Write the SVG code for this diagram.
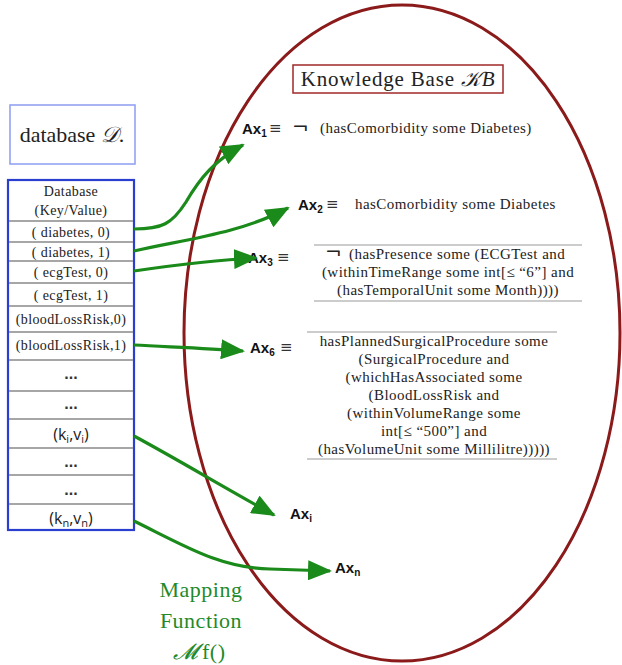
<svg xmlns="http://www.w3.org/2000/svg" width="622" height="665" viewBox="0 0 622 665">
<style>
.serif{font-family:'Liberation Serif',serif;fill:#222}
.cell{font-family:'Liberation Serif',serif;font-size:14px;letter-spacing:0.4px;fill:#222;text-anchor:middle}
.cal{font-family:'Open Sans','Liberation Sans',sans-serif;font-size:16px;fill:#222;text-anchor:middle}
.dots{font-family:'Liberation Sans',sans-serif;font-size:16px;font-weight:bold;fill:#333;text-anchor:middle}
.ax{font-family:'Liberation Sans',sans-serif;font-size:15px;font-weight:bold;fill:#111}
.ax tspan.s{font-size:10px}
.eq{font-family:'DejaVu Sans',sans-serif;font-size:15px;fill:#333}
.neg{font-family:'DejaVu Sans',sans-serif;font-size:20px;fill:#222}
.body{font-family:'Liberation Serif',serif;font-size:15px;letter-spacing:0.45px;fill:#222}
.mid{text-anchor:middle}
.rowline{stroke:#888;stroke-width:1.5}
.rule{stroke:#999;stroke-width:1.2}
.arrow{fill:none;stroke:#1a8a1a;stroke-width:3.2}
.green{font-family:'Liberation Serif',serif;font-size:22px;letter-spacing:0.5px;fill:#1f8a2a;text-anchor:middle}
</style>
<defs>
<marker id="ah" markerUnits="userSpaceOnUse" markerWidth="24" markerHeight="20" refX="22" refY="10" orient="auto" viewBox="0 0 24 20">
<path d="M0,0 L24,10 L0,20 z" fill="#1a8a1a"/>
</marker>
</defs>
<rect width="622" height="665" fill="#fff"/>

<g id="kb-ellipse">
<ellipse cx="402" cy="333" rx="218" ry="328" fill="none" stroke="#8b1a1a" stroke-width="3"/>
</g>

<g id="database-label">
<rect x="10" y="105" width="125" height="59" fill="none" stroke="#8c9cf0" stroke-width="1.5"/>
<text class="serif" x="72" y="142" font-size="22" text-anchor="middle">database <tspan font-style="italic">𝒟</tspan>.</text>
</g>

<g id="database-table">
<rect x="8" y="180" width="126" height="350" fill="#fff" stroke="#2a3fd0" stroke-width="2.2"/>
<line class="rowline" x1="9" y1="221" x2="133" y2="221"/>
<line class="rowline" x1="9" y1="242" x2="133" y2="242"/>
<line class="rowline" x1="9" y1="261" x2="133" y2="261"/>
<line class="rowline" x1="9" y1="283" x2="133" y2="283"/>
<line class="rowline" x1="9" y1="306" x2="133" y2="306"/>
<line class="rowline" x1="9" y1="332" x2="133" y2="332"/>
<line class="rowline" x1="9" y1="360" x2="133" y2="360"/>
<line class="rowline" x1="9" y1="391" x2="133" y2="391"/>
<line class="rowline" x1="9" y1="419" x2="133" y2="419"/>
<line class="rowline" x1="9" y1="448" x2="133" y2="448"/>
<line class="rowline" x1="9" y1="475" x2="133" y2="475"/>
<line class="rowline" x1="9" y1="504" x2="133" y2="504"/>
<text class="cell" x="71" y="196">Database</text>
<text class="cell" x="71" y="215">(Key/Value)</text>
<text class="cell" x="71" y="237">( diabetes, 0)</text>
<text class="cell" x="71" y="257">( diabetes, 1)</text>
<text class="cell" x="71" y="277">( ecgTest, 0)</text>
<text class="cell" x="71" y="300">( ecgTest, 1)</text>
<text class="cell" x="71" y="324">(bloodLossRisk,0)</text>
<text class="cell" x="71" y="350">(bloodLossRisk,1)</text>
<text class="dots" x="71" y="379">...</text>
<text class="dots" x="71" y="409">...</text>
<text class="cal" x="71" y="440">(k<tspan font-size="11" dy="3">i</tspan><tspan dy="-3">,v</tspan><tspan font-size="11" dy="3">i</tspan><tspan dy="-3">)</tspan></text>
<text class="dots" x="71" y="467">...</text>
<text class="dots" x="71" y="495">...</text>
<text class="cal" x="71" y="524">(k<tspan font-size="11" dy="3">n</tspan><tspan dy="-3">,v</tspan><tspan font-size="11" dy="3">n</tspan><tspan dy="-3">)</tspan></text>
</g>

<g id="kb-title">
<rect x="293" y="65" width="210" height="28" fill="none" stroke="#a02828" stroke-width="1.5"/>
<text class="serif" x="398" y="86" font-size="21" letter-spacing="0.8" text-anchor="middle">Knowledge Base <tspan font-style="italic">𝒦B</tspan></text>
</g>

<g id="ax1">
<text class="ax" x="242" y="134">Ax<tspan class="s" dy="3">1</tspan></text>
<text class="eq" x="269" y="133">≡</text>
<text class="neg" x="292" y="134" font-size="22">¬</text>
<text class="body" x="320" y="133">(hasComorbidity some Diabetes)</text>
</g>

<g id="ax2">
<text class="ax" x="298" y="210">Ax<tspan class="s" dy="3">2</tspan></text>
<text class="eq" x="326" y="209">≡</text>
<text class="body" x="355" y="209">hasComorbidity some Diabetes</text>
</g>

<g id="ax3">
<text class="ax" x="248" y="263">Ax<tspan class="s" dy="3">3</tspan></text>
<text class="eq" x="277" y="262">≡</text>
<line class="rule" x1="314" y1="245" x2="582" y2="245"/>
<line class="rule" x1="314" y1="301" x2="582" y2="301"/>
<text class="neg" x="325" y="259" font-size="18">¬</text>
<text class="body" x="349" y="259">(hasPresence some (ECGTest and</text>
<text class="body mid" x="448" y="277">(withinTimeRange some int[≤ “6”] and</text>
<text class="body mid" x="448" y="295">(hasTemporalUnit some Month))))</text>
</g>

<g id="ax6">
<text class="ax" x="250" y="353">Ax<tspan class="s" dy="3">6</tspan></text>
<text class="eq" x="280" y="352">≡</text>
<line class="rule" x1="307" y1="332" x2="557" y2="332"/>
<line class="rule" x1="307" y1="459" x2="557" y2="459"/>
<text class="body mid" x="434" y="346">hasPlannedSurgicalProcedure some</text>
<text class="body mid" x="434" y="364">(SurgicalProcedure and</text>
<text class="body mid" x="434" y="382">(whichHasAssociated some</text>
<text class="body mid" x="434" y="400">(BloodLossRisk and</text>
<text class="body mid" x="434" y="418">(withinVolumeRange some</text>
<text class="body mid" x="434" y="436">int[≤ “500”] and</text>
<text class="body mid" x="434" y="454">(hasVolumeUnit some Millilitre)))))</text>
</g>

<g id="axi">
<text class="ax" x="290" y="519">Ax<tspan class="s" dy="3">i</tspan></text>
</g>

<g id="axn">
<text class="ax" x="335" y="573">Ax<tspan class="s" dy="3">n</tspan></text>
</g>

<g id="mapping-label">
<text class="green" x="201" y="597">Mapping</text>
<text class="green" x="201" y="628">Function</text>
<text class="green" x="199" y="659"><tspan font-style="italic">𝓜</tspan><tspan dx="4">f()</tspan></text>
</g>

<g id="connectors">
<path class="arrow" marker-end="url(#ah)" d="M134,229 C162,229 172,224 186,202 C200,178 215,160 243,145"/>
<path class="arrow" marker-end="url(#ah)" d="M134,251 C180,240 240,234 288,208"/>
<path class="arrow" marker-end="url(#ah)" d="M134,271 C175,265 215,260 256,258"/>
<path class="arrow" marker-end="url(#ah)" d="M134,345 C170,347 205,348 243,351"/>
<path class="arrow" marker-end="url(#ah)" d="M134,436 C175,458 225,488 274,515"/>
<path class="arrow" marker-end="url(#ah)" d="M134,521 C185,546 220,568 270,569 L330,571"/>
</g>
</svg>
